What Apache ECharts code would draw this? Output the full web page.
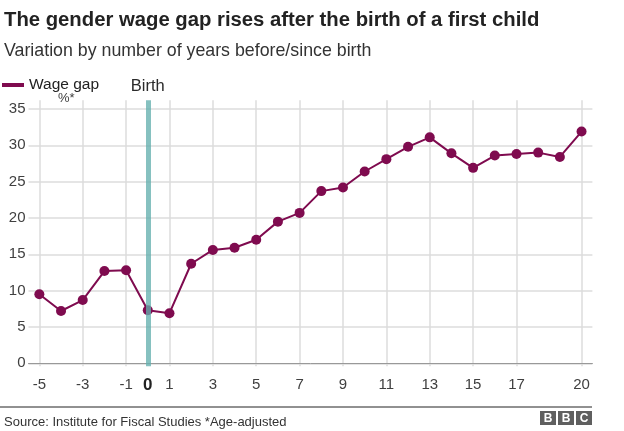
<!DOCTYPE html>
<html><head><meta charset="utf-8">
<script src="https://cdn.jsdelivr.net/npm/echarts@6/dist/echarts.min.js"></script>
<style>html,body{margin:0;padding:0;background:#fff}#c{width:624px;height:431px}</style>
</head><body><div id="c"></div>
<script>
const years = [-5,-4,-3,-2,-1,0,1,2,3,4,5,6,7,8,9,10,11,12,13,14,15,16,17,18,19,20];
const wageGap = [9.5,7.2,8.7,12.7,12.8,7.3,6.9,13.7,15.6,15.9,17.0,19.5,20.7,23.7,24.2,26.4,28.1,29.8,31.1,28.9,26.9,28.6,28.8,29.0,28.4,31.9];
const xTicks = [-5,-3,-1,1,3,5,7,9,11,13,15,17,20];
const xLabels = [-5,-3,-1,0,1,3,5,7,9,11,13,15,17,20];
const yTicks = [0,5,10,15,20,25,30,35];
const birthYear = 0;

const FONT = '"Liberation Sans", Arial, Helvetica, sans-serif';
const PURPLE = '#7f0b4f';
const chart = echarts.init(document.getElementById('c'), null, {renderer:'canvas'});
chart.setOption({
  animation:false,
  textStyle:{fontFamily:FONT},
  title:[
    {text:'The gender wage gap rises after the birth of a first child', left:-1, top:5,
     textStyle:{fontFamily:FONT, fontSize:20.3, fontWeight:'bold', color:'#222'}},
    {text:'Variation by number of years before/since birth', left:-1, top:37,
     textStyle:{fontFamily:FONT, fontSize:17.8, fontWeight:'normal', color:'#333'}},
    {text:'%*', left:53, top:87, textStyle:{fontFamily:FONT, fontSize:13, fontWeight:'normal', color:'#404040'}},
    {text:'Source: Institute for Fiscal Studies *Age-adjusted', left:-1, top:411,
     textStyle:{fontFamily:FONT, fontSize:13, fontWeight:'normal', color:'#333'}}
  ],
  legend:{show:true, left:-3, top:72, itemWidth:22, itemHeight:4, itemGap:5, icon:'rect',
    data:[{name:'Wage gap', icon:'rect'}],
    textStyle:{fontFamily:FONT, fontSize:15.5, color:'#222', padding:[0,0,0,0]}},
  grid:{left:28.5, right:31.6, top:100.3, bottom:64.8, containLabel:false},
  xAxis:{type:'value', min:-5.5, max:20.5,
    axisLine:{show:true, onZero:true, lineStyle:{color:'#999', width:1}},
    axisTick:{show:false, customValues:xTicks},
    splitLine:{show:true, lineStyle:{color:'#dcdcdc', width:1.5}},
    axisLabel:{customValues:xLabels, margin:11, fontFamily:FONT, fontSize:15, color:'#404040',
      formatter:v => v===0 ? '{b|0}' : String(v),
      rich:{b:{fontFamily:FONT, fontSize:17, fontWeight:'bold', color:'#222'}}}},
  yAxis:{type:'value', min:-0.4, max:36.2,
    axisLine:{show:false},
    axisTick:{show:false, customValues:yTicks},
    splitLine:{show:true, lineStyle:{color:'#dcdcdc', width:1.5}},
    axisLabel:{customValues:yTicks, margin:3, fontFamily:FONT, fontSize:15, color:'#404040'}},
  graphic:[
    {type:'group', left:540, top:411, children:[
      {type:'rect', shape:{x:0,y:0,width:16,height:14}, style:{fill:'#5f5f5f'}},
      {type:'rect', shape:{x:18,y:0,width:16,height:14}, style:{fill:'#5f5f5f'}},
      {type:'rect', shape:{x:36,y:0,width:16,height:14}, style:{fill:'#5f5f5f'}},
      {type:'text', x:8, y:7.5, style:{text:'B', fill:'#fff', font:'bold 12px '+FONT, align:'center', verticalAlign:'middle'}},
      {type:'text', x:26, y:7.5, style:{text:'B', fill:'#fff', font:'bold 12px '+FONT, align:'center', verticalAlign:'middle'}},
      {type:'text', x:44, y:7.5, style:{text:'C', fill:'#fff', font:'bold 12px '+FONT, align:'center', verticalAlign:'middle'}}
    ]},
    {type:'line', shape:{x1:0,y1:407,x2:592,y2:407}, style:{stroke:'#222', lineWidth:1}}
  ],
  series:[
    {type:'line', name:'Wage gap', data:years.map((x,i)=>[x,wageGap[i]]), z:3,
     symbol:'circle', symbolSize:10, showSymbol:true,
     lineStyle:{color:PURPLE, width:2}, itemStyle:{color:PURPLE}, color:PURPLE,
     markLine:{silent:true, symbol:'none', animation:false, z:5,
       lineStyle:{color:'rgba(100,176,174,0.78)', width:5, type:'solid', opacity:1},
       emphasis:{disabled:true},
       label:{show:true, position:'end', formatter:'Birth', distance:5, fontFamily:FONT, fontSize:16.5, color:'#2a2a2a', opacity:1},
       data:[{xAxis:birthYear}]}}
  ]
});
</script></body></html>
